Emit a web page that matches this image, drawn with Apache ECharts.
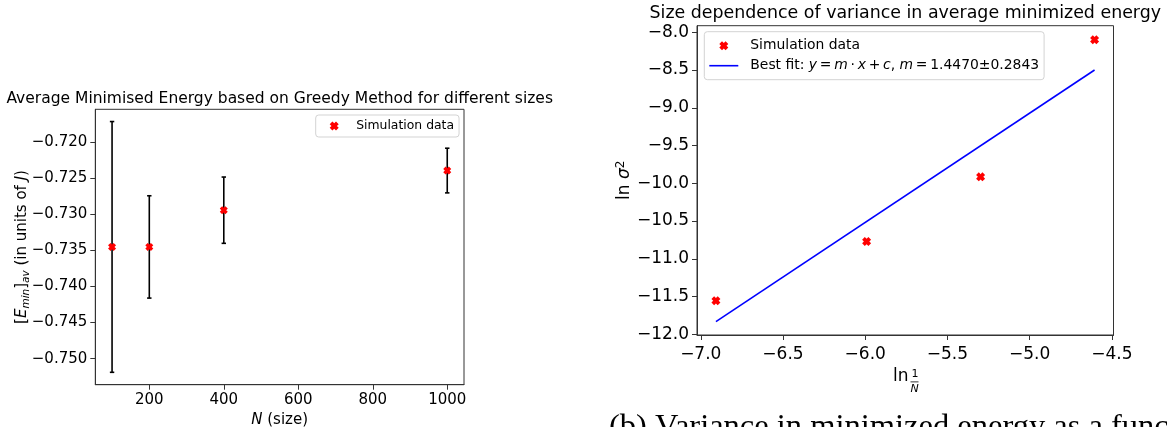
<!DOCTYPE html>
<html><head><meta charset="utf-8">
<script src="https://cdn.jsdelivr.net/npm/echarts@6/dist/echarts.min.js"></script>
<style>html,body{margin:0;padding:0;background:#fff}#c{width:1167px;height:427px}</style>
</head><body><div id="c"></div>
<script>
// ---- left panel data ----
const sizes = [100, 200, 400, 1000];
const meanEnergy = [-0.7345, -0.7345, -0.7294, -0.7239];
const energyErr = [0.0174, 0.0071, 0.0046, 0.0031];
const leftXTicks = [200, 400, 600, 800, 1000];
const leftYTicks = [-0.750, -0.745, -0.740, -0.735, -0.730, -0.725, -0.720];
// ---- right panel data ----
const lnInvN = [-6.9078, -5.9915, -5.2983, -4.6052];
const lnVar = [-11.556, -10.771, -9.915, -8.100];
const fitX = [-6.9078, -4.6052];
const fitY = [-11.832, -8.500];
const fitSlope = '1.4470';
const fitSlopeErr = '0.2843';
const rightXTicks = [-7.0, -6.5, -6.0, -5.5, -5.0, -4.5];
const rightYTicks = [-12.0, -11.5, -11.0, -10.5, -10.0, -9.5, -9.0, -8.5, -8.0];

const FONT = 'DejaVu Sans';
const XPATH = 'path://M3,0 L5,2 L7,0 L10,3 L8,5 L10,7 L7,10 L5,8 L3,10 L0,7 L2,5 L0,3 Z';
const LINEICON = 'path://M0,0 L29,0 L29,1.6 L0,1.6 Z';
const minus = s => s.replace('-', '\u2212');
const AX = '#333';
const SP = '\u2009';

const chart = echarts.init(document.getElementById('c'), null, {renderer: 'canvas'});

function axisCommon(ticks, fmt, fs, margin) {
  return {
    axisLine: {show: true, onZero: false, lineStyle: {color: AX, width: 1}},
    axisTick: {show: true, inside: false, length: 5, lineStyle: {color: AX, width: 1}, customValues: ticks},
    axisLabel: {show: true, margin: margin, color: '#000', fontFamily: FONT, fontSize: fs, customValues: ticks, formatter: fmt},
    splitLine: {show: false}
  };
}

const option = {
  backgroundColor: '#fff',
  animation: false,
  title: [
    {text: 'Average Minimised Energy based on Greedy Method for different sizes', left: 279.7, top: 91, textAlign: 'center', padding: 0,
     textStyle: {fontFamily: FONT, fontSize: 15.5, fontWeight: 'normal', color: '#000'}},
    {text: 'Size dependence of variance in average minimized energy', left: 905.3, top: 5, textAlign: 'center', padding: 0,
     textStyle: {fontFamily: FONT, fontSize: 17.4, fontWeight: 'normal', color: '#000'}}
  ],
  grid: [
    {left: 95.3, top: 109.3, width: 368.7, height: 275.4, show: true, borderColor: AX, borderWidth: 1, backgroundColor: 'transparent',
     containLabel: false, outerBoundsMode: 'none'},
    {left: 697, top: 25.7, width: 416.5, height: 309.3, show: true, borderColor: AX, borderWidth: 1, backgroundColor: 'transparent',
     containLabel: false, outerBoundsMode: 'none'}
  ],
  xAxis: [
    Object.assign({type: 'value', gridIndex: 0, min: 55, max: 1045,
      name: '{i|N} (size)', nameLocation: 'middle', nameGap: 24,
      nameTextStyle: {fontFamily: FONT, fontSize: 15, color: '#000', rich: {i: {fontFamily: FONT, fontStyle: 'italic', fontSize: 15}}}
    }, axisCommon(leftXTicks, v => minus(String(v)), 15, 8)),
    Object.assign({type: 'value', gridIndex: 1, min: -7.0229, max: -4.4901}, axisCommon(rightXTicks, v => minus(v.toFixed(1)), 17, 11))
  ],
  yAxis: [
    Object.assign({type: 'value', gridIndex: 0, min: -0.75362, max: -0.71540,
      name: '[{i|E}{sub|min}]{sub|av} (in units of {i|J})', nameLocation: 'middle', nameGap: 64, nameRotate: 90, nameMoveOverlap: false,
      nameTextStyle: {fontFamily: FONT, fontSize: 15, color: '#000', lineHeight: 18,
        rich: {i: {fontFamily: FONT, fontStyle: 'italic', fontSize: 15, lineHeight: 18},
               sub: {fontFamily: FONT, fontStyle: 'italic', fontSize: 10.5, verticalAlign: 'bottom', lineHeight: 18}}}
    }, axisCommon(leftYTicks, v => minus(v.toFixed(3)), 15, 8)),
    Object.assign({type: 'value', gridIndex: 1, min: -12.010, max: -7.913,
      name: 'ln {i|\u03c3}{sup|2}', nameLocation: 'middle', nameGap: 62, nameRotate: 90, nameMoveOverlap: false,
      nameTextStyle: {fontFamily: FONT, fontSize: 17, color: '#000', lineHeight: 20,
        rich: {i: {fontFamily: FONT, fontStyle: 'italic', fontSize: 17, lineHeight: 20},
               sup: {fontFamily: FONT, fontSize: 12, verticalAlign: 'top', lineHeight: 20}}}
    }, axisCommon(rightYTicks, v => minus(v.toFixed(1)), 17, 8))
  ],
  legend: [
    {left: 315.7, top: 115, orient: 'vertical', padding: [2, 5, 2, 14], itemWidth: 28, itemHeight: 9, itemGap: 0,
     symbolKeepAspect: true,
     backgroundColor: '#fff', borderColor: '#d3d3d3', borderWidth: 1, borderRadius: 3,
     data: [{name: 'Simulation data', icon: XPATH, itemStyle: {color: '#ff0000'}}],
     textStyle: {fontFamily: FONT, fontSize: 12.4, color: '#000', lineHeight: 18, padding: [0, 0, 0, 3]},
     selectedMode: false},
    {left: 704.3, top: 31.7, orient: 'vertical', padding: [4, 5, 4, 5], itemWidth: 29, itemHeight: 9, itemGap: 0,
     symbolKeepAspect: true,
     backgroundColor: '#fff', borderColor: '#d3d3d3', borderWidth: 1, borderRadius: 3,
     data: [{name: 'Simulation data', icon: XPATH, itemStyle: {color: '#ff0000'}},
            {name: 'Best fit', icon: LINEICON, itemStyle: {color: '#0000ff'}}],
     formatter: name => name === 'Best fit'
        ? 'Best fit: {i|y}' + SP + '=' + SP + '{i|m}' + SP + '\u00b7' + SP + '{i|x}' + SP + '+' + SP + '{i|c}, {i|m}' + SP + '=' + SP + fitSlope + '\u00b1' + fitSlopeErr
        : name,
     textStyle: {fontFamily: FONT, fontSize: 13.9, color: '#000', lineHeight: 20, padding: [0, 0, 0, 7],
       rich: {i: {fontFamily: FONT, fontStyle: 'italic', fontSize: 13.9, lineHeight: 20}}},
     selectedMode: false}
  ],
  series: [
    {type: 'custom', name: 'Error bars', xAxisIndex: 0, yAxisIndex: 0, z: 2, silent: true,
     data: sizes.map((s, i) => [s, meanEnergy[i] - energyErr[i], meanEnergy[i] + energyErr[i]]),
     renderItem: (params, api) => {
       const lo = api.coord([api.value(0), api.value(1)]);
       const hi = api.coord([api.value(0), api.value(2)]);
       const st = {stroke: '#000', lineWidth: 1.6};
       const cw = 2.2;
       return {type: 'group', children: [
         {type: 'line', shape: {x1: lo[0], y1: lo[1], x2: hi[0], y2: hi[1]}, style: st},
         {type: 'line', shape: {x1: lo[0] - cw, y1: lo[1], x2: lo[0] + cw, y2: lo[1]}, style: st},
         {type: 'line', shape: {x1: hi[0] - cw, y1: hi[1], x2: hi[0] + cw, y2: hi[1]}, style: st}
       ]};
     }},
    {type: 'scatter', name: 'Simulation data', xAxisIndex: 0, yAxisIndex: 0, z: 3,
     symbol: XPATH, symbolSize: 8, symbolKeepAspect: true, itemStyle: {color: '#ff0000', opacity: 1},
     data: sizes.map((s, i) => [s, meanEnergy[i]])},
    {type: 'scatter', name: 'Simulation data', xAxisIndex: 1, yAxisIndex: 1, z: 3,
     symbol: XPATH, symbolSize: 9, symbolKeepAspect: true, itemStyle: {color: '#ff0000', opacity: 1},
     data: lnInvN.map((x, i) => [x, lnVar[i]])},
    {type: 'line', name: 'Best fit', xAxisIndex: 1, yAxisIndex: 1, z: 2, symbol: 'none', showSymbol: false,
     lineStyle: {color: '#0000ff', width: 1.6}, itemStyle: {color: '#0000ff'},
     data: fitX.map((x, i) => [x, fitY[i]])}
  ],
  graphic: [
    {type: 'text', left: 893, top: 368, style: {text: 'ln', font: '17px "DejaVu Sans"', fill: '#000'}},
    {type: 'text', left: 911.5, top: 369, style: {text: '1', font: '11px "DejaVu Sans"', fill: '#000'}},
    {type: 'rect', left: 910.5, top: 381.5, shape: {width: 8, height: 0.8}, style: {fill: '#000'}},
    {type: 'text', left: 910.5, top: 384, style: {text: 'N', font: 'italic 11px "DejaVu Sans"', fill: '#000'}},
    {type: 'text', left: 609, top: 411, style: {text: '(b) Variance in minimized energy as a function of size', font: '32.5px "Liberation Serif"', fill: '#000'}}
  ]
};
chart.setOption(option);
</script></body></html>
